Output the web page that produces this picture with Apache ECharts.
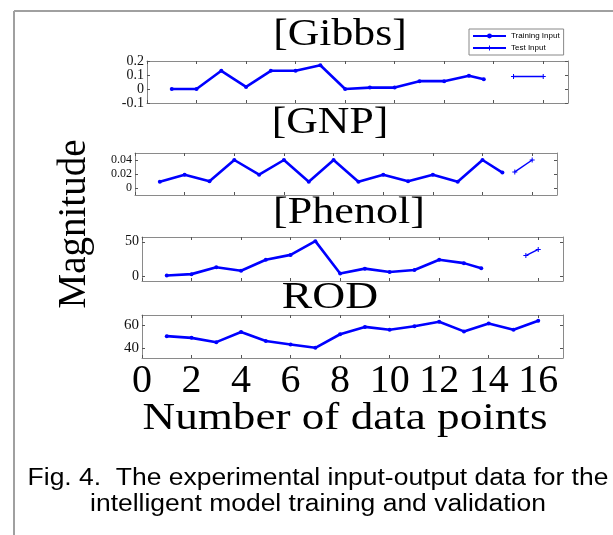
<!DOCTYPE html>
<html>
<head>
<meta charset="utf-8">
<script src="https://cdn.jsdelivr.net/npm/echarts@6/dist/echarts.min.js"></script>
<style>
  html, body { margin: 0; padding: 0; background: #fff; }
  #chart { width: 613px; height: 535px; }
</style>
</head>
<body>
<div id="chart"></div>
<script>
// values, [x, y]
let gibbsTrain = [[1,0],[2,0],[3,0.13],[4,0.015],[5,0.13],[6,0.13],[7,0.17],[8,0],[9,0.01],[10,0.01],[11,0.056],[12,0.056],[13,0.094],[13.6,0.07]];
let gibbsTest = [[14.8,0.09],[16,0.09]];

let gnpTrain = [[1,0.009],[2,0.019],[3,0.0095],[4,0.04],[5,0.019],[6,0.04],[7,0.009],[8,0.04],[9,0.009],[10,0.019],[11,0.0095],[12,0.019],[13,0.009],[14,0.04],[14.8,0.022]];
let gnpTest = [[15.3,0.023],[16,0.04]];

let phenolTrain = [[1,1],[2,3],[3,13],[4,8],[5,24],[6,31],[7,51],[8,4],[9,11],[10,6],[11,9],[12,24],[13,19],[13.7,11.5]];
let phenolTest = [[15.5,30],[16,39]];

let rodTrain = [[1,50.3],[2,48.8],[3,45],[4,54],[5,46],[6,43],[7,40],[8,52],[9,58.5],[10,56],[11,59],[12,63],[13,54.5],[14,61.5],[15,56],[16,64]];

let xTicks = [0,2,4,6,8,10,12,14,16];
let panelTitles = ['[Gibbs]', '[GNP]', '[Phenol]', 'ROD'];
let yTicks = [[-0.1,0,0.1,0.2], [0,0.02,0.04], [0,50], [40,60]];
let yRange = [[-0.1,0.2], [-0.01,0.05], [-7,57], [31,69]];
let yFont = [14, 12, 14, 15];

let serif = '"Liberation Serif", "Times New Roman", serif';
let blue = '#0000ff';
let axisGrey = '#8a8a8a';

let boxes = [
    {left: 147, top: 61, width: 421, height: 42},
    {left: 135, top: 153, width: 422, height: 42},
    {left: 142, top: 237, width: 421, height: 44},
    {left: 142, top: 315, width: 421, height: 43}
];

let grids = [], xAxes = [], yAxes = [], series = [];

function yLabel(v) {
    return String(+v.toFixed(3));
}

for (let i = 0; i < 4; i++) {
    grids.push(boxes[i]);
    let last = (i === 3);
    // bottom and top x axes (box with inner ticks)
    ['bottom', 'top'].forEach(function (pos) {
        xAxes.push({
            type: 'value', gridIndex: i, position: pos, min: 0, max: 17,
            axisLine: {show: true, onZero: false, lineStyle: {color: axisGrey, width: 1}},
            axisTick: {show: true, inside: true, length: 3, customValues: xTicks, lineStyle: {color: '#555'}},
            axisLabel: {
                show: last && pos === 'bottom', customValues: xTicks, margin: 3,
                showMinLabel: true, hideOverlap: false,
                fontFamily: serif, fontSize: 40, color: '#000'
            },
            splitLine: {show: false}
        });
    });
    ['left', 'right'].forEach(function (pos) {
        yAxes.push({
            type: 'value', gridIndex: i, position: pos,
            min: yRange[i][0], max: yRange[i][1],
            axisLine: {show: true, onZero: false, lineStyle: {color: axisGrey, width: 1}},
            axisTick: {show: true, inside: true, length: 3, customValues: yTicks[i], lineStyle: {color: '#555'}},
            axisLabel: {
                show: pos === 'left', customValues: yTicks[i], margin: 3,
                showMinLabel: true, showMaxLabel: true, hideOverlap: false,
                fontFamily: serif, fontSize: yFont[i], lineHeight: yFont[i], color: '#111', formatter: yLabel
            },
            splitLine: {show: false}
        });
    });
}

function trainSeries(i, data) {
    return {
        name: 'Training Input', type: 'line', xAxisIndex: 2 * i, yAxisIndex: 2 * i,
        data: data, symbol: 'circle', symbolSize: 4, showSymbol: true,
        lineStyle: {color: blue, width: 2.6}, itemStyle: {color: blue}
    };
}
function testSeries(i, data) {
    return {
        name: 'Test Input', type: 'line', xAxisIndex: 2 * i, yAxisIndex: 2 * i,
        data: data, symbol: 'path://M4,0h2v4h4v2h-4v4h-2v-4h-4v-2h4z', symbolSize: 5,
        lineStyle: {color: blue, width: 1.5}, itemStyle: {color: blue}
    };
}

series.push(trainSeries(0, gibbsTrain), testSeries(0, gibbsTest));
series.push(trainSeries(1, gnpTrain), testSeries(1, gnpTest));
series.push(trainSeries(2, phenolTrain), testSeries(2, phenolTest));
series.push(trainSeries(3, rodTrain));

function txt(text, x, y, font, sx, rot) {
    return {
        type: 'text', x: x, y: y, scaleX: sx || 1, rotation: rot || 0, z: 10,
        style: {
            text: text, font: font, fill: '#000',
            align: 'center', verticalAlign: 'middle',
            textAlign: 'center', textVerticalAlign: 'middle'
        }
    };
}

let titlePos = [[340, 35, 1.15], [330, 123, 1.15], [349, 213, 1.16], [330, 298, 1.2]];
let graphics = [
    {type: 'line', shape: {x1: 14, y1: 11, x2: 613, y2: 11}, style: {stroke: '#a0a0a0', lineWidth: 2}},
    {type: 'line', shape: {x1: 14, y1: 11, x2: 14, y2: 535}, style: {stroke: '#a0a0a0', lineWidth: 2}}
];
for (let i = 0; i < 4; i++) {
    graphics.push(txt(panelTitles[i], titlePos[i][0], titlePos[i][1], '38px ' + serif, titlePos[i][2]));
}
graphics.push(txt('Magnitude', 75, 224, '39px ' + serif, 1, Math.PI / 2));
graphics.push(txt('Number of data points', 345, 419, '37px ' + serif, 1.22));
graphics.push(txt('Fig. 4.  The experimental input-output data for the', 318, 479, '23px "Liberation Sans", Arial, sans-serif', 1.15));
graphics.push(txt('intelligent model training and validation', 318, 505, '23px "Liberation Sans", Arial, sans-serif', 1.15));

let option = {
    animation: false,
    backgroundColor: '#fff',
    grid: grids,
    xAxis: xAxes,
    yAxis: yAxes,
    legend: {
        data: ['Training Input', 'Test Input'],
        orient: 'vertical', left: 469, top: 29,
        padding: [3, 4, 3, 3], itemGap: 4, itemWidth: 33, itemHeight: 6,
        borderColor: '#888', borderWidth: 1,
        textStyle: {fontSize: 8, color: '#000', fontFamily: 'Liberation Sans, Arial, sans-serif'}
    },
    graphic: graphics,
    series: series
};

let myChart = echarts.init(document.getElementById('chart'));
myChart.setOption(option);
</script>
</body>
</html>
